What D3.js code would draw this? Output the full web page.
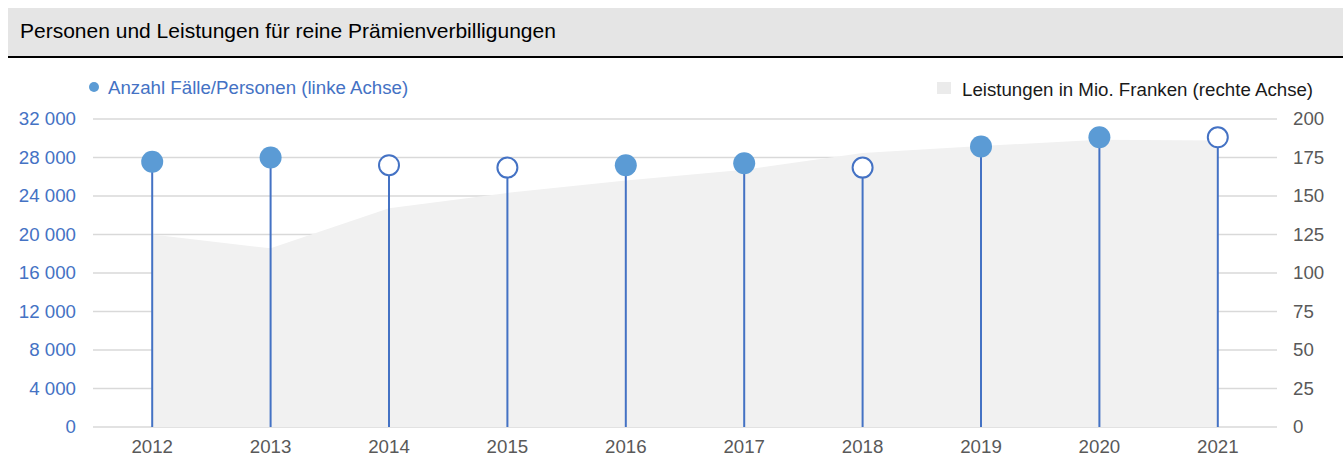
<!DOCTYPE html>
<html>
<head>
<meta charset="utf-8">
<script src="https://cdn.jsdelivr.net/npm/d3@7"></script>
<style>
  body { margin: 0; background: #fff; }
  svg text { font-family: "Liberation Sans", Arial, sans-serif; }
</style>
</head>
<body>
<svg id="chart" width="1343" height="457"></svg>
<script>
// data
years = ["2012", "2013", "2014", "2015", "2016", "2017", "2018", "2019", "2020", "2021"]
personen = [27550, 28000, 27200, 26950, 27200, 27400, 26950, 29150, 30100, 30100]
offenerPunkt = [false, false, true, true, false, false, true, false, false, true]
leistungen = [125, 116, 142, 152, 160, 167, 178, 182.5, 186.5, 186]
leftTicks = [0, 4000, 8000, 12000, 16000, 20000, 24000, 28000, 32000]
rightTicks = [0, 25, 50, 75, 100, 125, 150, 175, 200]

titleText = "Personen und Leistungen für reine Prämienverbilligungen"
legendLeft = "Anzahl Fälle/Personen (linke Achse)"
legendRight = "Leistungen in Mio. Franken (rechte Achse)"

const blue = "#4472c4"
const lightBlue = "#5b9bd5"
const grey = "#595959"
const fs = 18.7

const svg = d3.select("#chart")

const plotLeft = 93, plotRight = 1277, plotTop = 119, plotBottom = 427

const x = d3.scaleBand().domain(years).range([plotLeft, plotRight])
const yLeft = d3.scaleLinear().domain([0, 32000]).range([plotBottom, plotTop])
const yRight = d3.scaleLinear().domain([0, 200]).range([plotBottom, plotTop])

const locale = d3.formatLocale({ decimal: ",", thousands: " ", grouping: [3], currency: ["", ""] })
const fmt = locale.format(",")

// title bar
svg.append("rect")
    .attr("x", 8).attr("y", 8)
    .attr("width", 1343 - 8).attr("height", 48)
    .attr("fill", "#e5e5e5")
svg.append("rect")
    .attr("x", 8).attr("y", 56)
    .attr("width", 1343 - 8).attr("height", 2)
    .attr("fill", "#000")
svg.append("text")
    .attr("x", 20).attr("y", 38)
    .attr("font-size", 21)
    .attr("fill", "#000")
    .text(titleText)

// gridlines
svg.append("g")
    .selectAll("line")
    .data(leftTicks)
    .join("line")
    .attr("x1", plotLeft).attr("x2", plotRight)
    .attr("y1", d => yLeft(d)).attr("y2", d => yLeft(d))
    .attr("stroke", "#d9d9d9")
    .attr("stroke-width", 1.5)

// area (right axis)
const area = d3.area()
    .x((d, i) => x(years[i]) + x.bandwidth() / 2)
    .y0(plotBottom)
    .y1(d => yRight(d))
svg.append("path")
    .attr("d", area(leistungen))
    .attr("fill", "#f1f1f1")

// left axis
const axisLeft = d3.axisLeft(yLeft).tickValues(leftTicks).tickFormat(fmt).tickSize(0).tickPadding(0)
const gl = svg.append("g").attr("transform", "translate(76,0)").call(axisLeft)
gl.select(".domain").remove()
gl.selectAll("text").attr("font-size", fs).attr("fill", blue).attr("font-family", null)

// right axis
const axisRight = d3.axisRight(yRight).tickValues(rightTicks).tickSize(0).tickPadding(0)
const gr = svg.append("g").attr("transform", "translate(1293,0)").call(axisRight)
gr.select(".domain").remove()
gr.selectAll("text").attr("font-size", fs).attr("fill", grey).attr("font-family", null)

// x axis
const axisBottom = d3.axisBottom(x).tickSize(0).tickPadding(0)
const gb = svg.append("g").attr("transform", "translate(0,440)").call(axisBottom)
gb.select(".domain").remove()
gb.selectAll("text").attr("font-size", fs).attr("fill", grey).attr("font-family", null)

// stems and points
const pts = years.map((yr, i) => ({ yr: yr, v: personen[i], open: offenerPunkt[i] }))
svg.append("g")
    .selectAll("line")
    .data(pts)
    .join("line")
    .attr("x1", d => x(d.yr) + x.bandwidth() / 2)
    .attr("x2", d => x(d.yr) + x.bandwidth() / 2)
    .attr("y1", yLeft(0))
    .attr("y2", d => yLeft(d.v))
    .attr("stroke", blue)
    .attr("stroke-width", 2)
svg.append("g")
    .selectAll("circle")
    .data(pts)
    .join("circle")
    .attr("cx", d => x(d.yr) + x.bandwidth() / 2)
    .attr("cy", d => yLeft(d.v))
    .attr("r", d => d.open ? 10 : 11)
    .attr("fill", d => d.open ? "#fff" : lightBlue)
    .attr("stroke", d => d.open ? blue : "none")
    .attr("stroke-width", 2)

// legends
svg.append("circle")
    .attr("cx", 94).attr("cy", 87).attr("r", 5)
    .attr("fill", lightBlue)
svg.append("text")
    .attr("x", 108).attr("y", 94)
    .attr("font-size", fs)
    .attr("fill", blue)
    .text(legendLeft)
svg.append("rect")
    .attr("x", 937).attr("y", 82).attr("width", 14).attr("height", 12)
    .attr("fill", "#ebebeb")
svg.append("text")
    .attr("x", 962).attr("y", 96)
    .attr("font-size", fs)
    .attr("fill", "#1a1a1a")
    .text(legendRight)
</script>
</body>
</html>
